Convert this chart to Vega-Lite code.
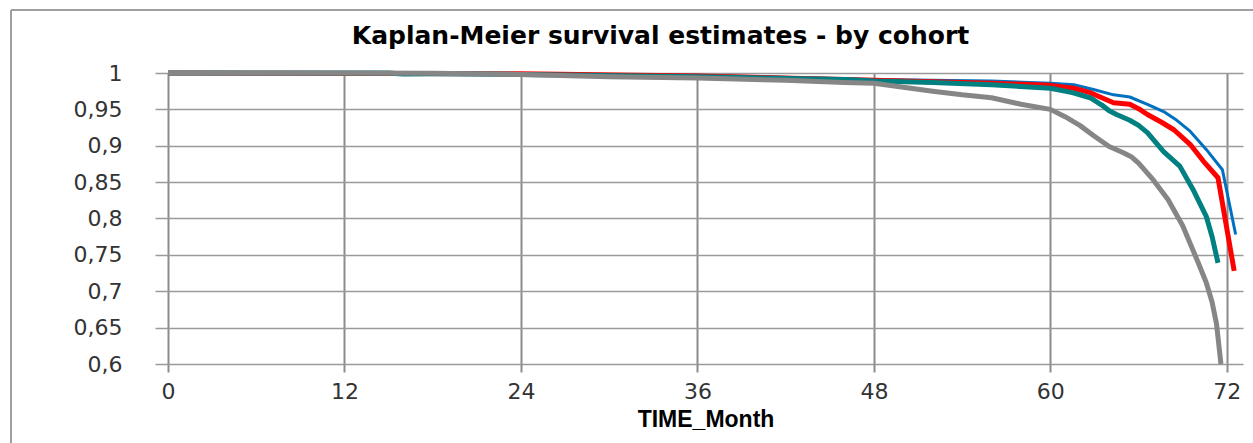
{
  "$schema": "https://vega.github.io/schema/vega-lite/v6.json",
  "autosize": "none",
  "width": 1075,
  "height": 291,
  "padding": {"left": 168, "top": 73, "right": 10, "bottom": 79},
  "background": "white",
  "title": {
    "text": "Kaplan-Meier survival estimates - by cohort",
    "font": "DejaVu Sans",
    "fontSize": 25,
    "fontWeight": "bold",
    "color": "#000000",
    "anchor": "middle",
    "frame": "group",
    "dx": -45,
    "offset": -40
  },
  "config": {
    "view": {"stroke": null},
    "axis": {"labelFont": "DejaVu Sans", "labelColor": "#333333", "titleColor": "#000000"}
  },
  "data": {
    "values": [
      {"cohort": "Cohort 1", "month": 0, "survival": 1},
      {"cohort": "Cohort 1", "month": 12, "survival": 1},
      {"cohort": "Cohort 1", "month": 24, "survival": 0.999},
      {"cohort": "Cohort 1", "month": 36, "survival": 0.997},
      {"cohort": "Cohort 1", "month": 46, "survival": 0.992},
      {"cohort": "Cohort 1", "month": 48, "survival": 0.991},
      {"cohort": "Cohort 1", "month": 52, "survival": 0.99},
      {"cohort": "Cohort 1", "month": 56, "survival": 0.989},
      {"cohort": "Cohort 1", "month": 60, "survival": 0.986},
      {"cohort": "Cohort 1", "month": 61.6, "survival": 0.984},
      {"cohort": "Cohort 1", "month": 63, "survival": 0.977},
      {"cohort": "Cohort 1", "month": 64.3, "survival": 0.97},
      {"cohort": "Cohort 1", "month": 65.4, "survival": 0.967},
      {"cohort": "Cohort 1", "month": 66.6, "survival": 0.957},
      {"cohort": "Cohort 1", "month": 67.7, "survival": 0.947},
      {"cohort": "Cohort 1", "month": 68.6, "survival": 0.935},
      {"cohort": "Cohort 1", "month": 69.5, "survival": 0.92},
      {"cohort": "Cohort 1", "month": 70.6, "survival": 0.895},
      {"cohort": "Cohort 1", "month": 71.7, "survival": 0.867},
      {"cohort": "Cohort 1", "month": 72.6, "survival": 0.778},

      {"cohort": "Cohort 2", "month": 0, "survival": 1},
      {"cohort": "Cohort 2", "month": 24, "survival": 0.999},
      {"cohort": "Cohort 2", "month": 36, "survival": 0.996},
      {"cohort": "Cohort 2", "month": 46, "survival": 0.991},
      {"cohort": "Cohort 2", "month": 48, "survival": 0.99},
      {"cohort": "Cohort 2", "month": 52, "survival": 0.988},
      {"cohort": "Cohort 2", "month": 56, "survival": 0.986},
      {"cohort": "Cohort 2", "month": 60, "survival": 0.983},
      {"cohort": "Cohort 2", "month": 61.6, "survival": 0.979},
      {"cohort": "Cohort 2", "month": 62.7, "survival": 0.973},
      {"cohort": "Cohort 2", "month": 63.5, "survival": 0.966},
      {"cohort": "Cohort 2", "month": 64.3, "survival": 0.959},
      {"cohort": "Cohort 2", "month": 65.4, "survival": 0.957},
      {"cohort": "Cohort 2", "month": 66, "survival": 0.951},
      {"cohort": "Cohort 2", "month": 66.6, "survival": 0.943},
      {"cohort": "Cohort 2", "month": 67.5, "survival": 0.933},
      {"cohort": "Cohort 2", "month": 68.4, "survival": 0.922},
      {"cohort": "Cohort 2", "month": 69.5, "survival": 0.902},
      {"cohort": "Cohort 2", "month": 70.4, "survival": 0.879},
      {"cohort": "Cohort 2", "month": 71.4, "survival": 0.856},
      {"cohort": "Cohort 2", "month": 72.5, "survival": 0.728},

      {"cohort": "Cohort 3", "month": 0, "survival": 1},
      {"cohort": "Cohort 3", "month": 15, "survival": 1},
      {"cohort": "Cohort 3", "month": 16, "survival": 0.9985},
      {"cohort": "Cohort 3", "month": 18, "survival": 0.999},
      {"cohort": "Cohort 3", "month": 24, "survival": 0.998},
      {"cohort": "Cohort 3", "month": 36, "survival": 0.995},
      {"cohort": "Cohort 3", "month": 46, "survival": 0.991},
      {"cohort": "Cohort 3", "month": 48, "survival": 0.989},
      {"cohort": "Cohort 3", "month": 52, "survival": 0.987},
      {"cohort": "Cohort 3", "month": 56, "survival": 0.984},
      {"cohort": "Cohort 3", "month": 60, "survival": 0.979},
      {"cohort": "Cohort 3", "month": 61.5, "survival": 0.973},
      {"cohort": "Cohort 3", "month": 62.7, "survival": 0.966},
      {"cohort": "Cohort 3", "month": 63.5, "survival": 0.956},
      {"cohort": "Cohort 3", "month": 64, "survival": 0.948},
      {"cohort": "Cohort 3", "month": 64.5, "survival": 0.943},
      {"cohort": "Cohort 3", "month": 65.4, "survival": 0.935},
      {"cohort": "Cohort 3", "month": 66, "survival": 0.928},
      {"cohort": "Cohort 3", "month": 66.6, "survival": 0.918},
      {"cohort": "Cohort 3", "month": 67.7, "survival": 0.892},
      {"cohort": "Cohort 3", "month": 68.8, "survival": 0.872},
      {"cohort": "Cohort 3", "month": 69.7, "survival": 0.84},
      {"cohort": "Cohort 3", "month": 70.6, "survival": 0.803},
      {"cohort": "Cohort 3", "month": 71, "survival": 0.775},
      {"cohort": "Cohort 3", "month": 71.4, "survival": 0.739},

      {"cohort": "Cohort 4", "month": 0, "survival": 1},
      {"cohort": "Cohort 4", "month": 12, "survival": 1},
      {"cohort": "Cohort 4", "month": 18, "survival": 0.9995},
      {"cohort": "Cohort 4", "month": 24, "survival": 0.998},
      {"cohort": "Cohort 4", "month": 30, "survival": 0.995},
      {"cohort": "Cohort 4", "month": 36, "survival": 0.993},
      {"cohort": "Cohort 4", "month": 42, "survival": 0.99},
      {"cohort": "Cohort 4", "month": 46, "survival": 0.987},
      {"cohort": "Cohort 4", "month": 48, "survival": 0.986},
      {"cohort": "Cohort 4", "month": 52, "survival": 0.975},
      {"cohort": "Cohort 4", "month": 54, "survival": 0.97},
      {"cohort": "Cohort 4", "month": 56, "survival": 0.966},
      {"cohort": "Cohort 4", "month": 58, "survival": 0.957},
      {"cohort": "Cohort 4", "month": 60, "survival": 0.95},
      {"cohort": "Cohort 4", "month": 61, "survival": 0.94},
      {"cohort": "Cohort 4", "month": 62, "survival": 0.928},
      {"cohort": "Cohort 4", "month": 63, "survival": 0.913},
      {"cohort": "Cohort 4", "month": 64, "survival": 0.899},
      {"cohort": "Cohort 4", "month": 65, "survival": 0.89},
      {"cohort": "Cohort 4", "month": 65.5, "survival": 0.885},
      {"cohort": "Cohort 4", "month": 66, "survival": 0.876},
      {"cohort": "Cohort 4", "month": 67, "survival": 0.853},
      {"cohort": "Cohort 4", "month": 68, "survival": 0.826},
      {"cohort": "Cohort 4", "month": 69, "survival": 0.79},
      {"cohort": "Cohort 4", "month": 70, "survival": 0.742},
      {"cohort": "Cohort 4", "month": 70.6, "survival": 0.712},
      {"cohort": "Cohort 4", "month": 71, "survival": 0.685},
      {"cohort": "Cohort 4", "month": 71.3, "survival": 0.655},
      {"cohort": "Cohort 4", "month": 71.6, "survival": 0.6}
    ]
  },
  "encoding": {
    "x": {
      "field": "month",
      "type": "quantitative",
      "scale": {"domain": [0, 73.1], "nice": false, "zero": false},
      "axis": {
        "values": [0, 12, 24, 36, 48, 60, 72],
        "title": "TIME_Month",
        "titleFont": "Liberation Sans",
        "titleFontSize": 23,
        "titleFontWeight": "bold",
        "titlePadding": 6,
        "labelFontSize": 22,
        "labelPadding": 9,
        "labelFlush": false,
        "tickSize": 8,
        "tickColor": "#8c8c8c",
        "tickWidth": 2,
        "domain": false,
        "grid": true,
        "gridColor": "#8c8c8c",
        "gridWidth": 2
      }
    },
    "y": {
      "field": "survival",
      "type": "quantitative",
      "scale": {"domain": [0.6, 1], "nice": false, "zero": false},
      "axis": {
        "values": [0.6, 0.65, 0.7, 0.75, 0.8, 0.85, 0.9, 0.95, 1],
        "labelExpr": "replace(format(datum.value, '.2~f'), '.', ',')",
        "title": null,
        "labelFontSize": 22,
        "labelPadding": 33,
        "tickSize": 13,
        "tickColor": "#9a9a9a",
        "tickWidth": 1.5,
        "domain": false,
        "grid": true,
        "gridColor": "#9a9a9a",
        "gridWidth": 1.5
      }
    }
  },
  "layer": [
    {
      "mark": {"type": "rule", "color": "#a0a0a0", "strokeWidth": 1.5, "clip": false},
      "encoding": {"x": {"datum": -10.67}, "x2": {"datum": 80}, "y": {"datum": 1.0866}}
    },
    {
      "mark": {"type": "rule", "color": "#a0a0a0", "strokeWidth": 1.5, "clip": false},
      "encoding": {"x": {"datum": -10.67}, "y": {"datum": 1.0866}, "y2": {"datum": 0.49}}
    },
    {
      "transform": [{"filter": "datum.cohort === 'Cohort 1'"}],
      "mark": {"type": "line", "color": "#0070C0", "strokeWidth": 3, "strokeJoin": "round", "strokeCap": "butt"}
    },
    {
      "transform": [{"filter": "datum.cohort === 'Cohort 2'"}],
      "mark": {"type": "line", "color": "#FF0000", "strokeWidth": 5, "strokeJoin": "round", "strokeCap": "butt"}
    },
    {
      "transform": [{"filter": "datum.cohort === 'Cohort 3'"}],
      "mark": {"type": "line", "color": "#008080", "strokeWidth": 5, "strokeJoin": "round", "strokeCap": "butt"}
    },
    {
      "transform": [{"filter": "datum.cohort === 'Cohort 4'"}],
      "mark": {"type": "line", "color": "#868686", "strokeWidth": 5, "strokeJoin": "round", "strokeCap": "butt"}
    }
  ]
}
